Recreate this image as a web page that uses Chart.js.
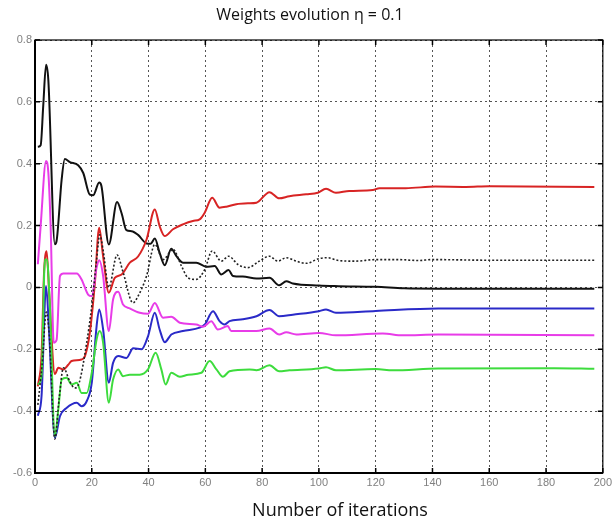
<!DOCTYPE html>
<html>
<head>
<meta charset="utf-8">
<script src="https://cdn.jsdelivr.net/npm/chart.js@4/dist/chart.umd.min.js"></script>
<style>
    html, body { margin: 0; padding: 0; background: #ffffff; }
    #wrap { width: 615px; height: 524px; }
</style>
</head>
<body>
<div id="wrap"><canvas id="weightsChart" width="615" height="524"></canvas></div>
<script>
// ==========================================
// DATA
// ==========================================

const chartTitle = 'Weights evolution η = 0.1';
const xAxisTitle = 'Number of iterations';

const xTicks = [0, 20, 40, 60, 80, 100, 120, 140, 160, 180, 200];
const yTicks = [-0.6, -0.4, -0.2, 0, 0.2, 0.4, 0.6, 0.8];

// black solid
const blackIter = [1, 2, 2.9, 3.9, 4.7, 7, 7.6, 9.4, 10.5, 12.3, 15.2, 17, 19.3, 20.5, 22.6, 23.4, 26, 28.9, 30.5, 32.2, 34, 36.3, 39.3, 40.7, 42.2, 43.9, 45.7, 48, 49.8, 52.1, 56.8, 60.3, 63.3, 65.6, 68.2, 69.7, 73.2, 78, 82.6, 86, 88.5, 90.8, 100, 107, 120, 130, 142, 197];
const blackW = [0.455, 0.46, 0.587, 0.72, 0.67, 0.14, 0.15, 0.35, 0.415, 0.405, 0.395, 0.37, 0.30, 0.298, 0.339, 0.328, 0.139, 0.276, 0.24, 0.185, 0.182, 0.17, 0.142, 0.141, 0.158, 0.112, 0.072, 0.125, 0.101, 0.08, 0.08, 0.067, 0.069, 0.042, 0.056, 0.037, 0.035, 0.029, 0.031, 0.007, 0.02, 0.013, 0.006, 0.004, 0.002, -0.003, -0.004, -0.004];

// black dotted
const dotIter = [1, 2.5, 4, 5, 7, 8.5, 10, 12.3, 14, 15.5, 18.2, 20, 21.7, 22.8, 24, 26, 28.9, 31, 34.5, 36.3, 39.3, 42.2, 45.1, 48.6, 51.6, 53.9, 56.8, 59.8, 62.4, 65.6, 68.2, 71.5, 75, 79, 82.6, 85.5, 88.5, 92, 95.5, 100, 103, 107, 113, 120, 128, 135, 140, 160, 197];
const dotW = [-0.38, -0.25, -0.08, -0.15, -0.49, -0.36, -0.26, -0.305, -0.325, -0.31, -0.179, -0.06, 0.09, 0.17, 0.12, 0.0, 0.105, 0.05, -0.05, -0.028, 0.037, 0.139, 0.09, 0.123, 0.069, 0.031, 0.026, 0.058, 0.118, 0.085, 0.101, 0.074, 0.064, 0.085, 0.101, 0.085, 0.096, 0.085, 0.078, 0.093, 0.096, 0.087, 0.085, 0.09, 0.09, 0.087, 0.09, 0.088, 0.088];

// red
const redIter = [1, 2.3, 3.2, 4.1, 5, 7, 8.2, 10, 11.7, 12.9, 16.4, 17.6, 19.3, 21.1, 22.6, 24, 26, 28.1, 30.5, 33.4, 36.3, 39.3, 42.2, 43.9, 45.7, 48.6, 52.1, 55.6, 58, 59.8, 62.4, 65, 67.4, 70.9, 75, 78, 82.6, 86, 89.6, 95.5, 99.6, 102.5, 106, 110.7, 119, 121.3, 130.6, 141, 151.7, 160, 197];
const redW = [-0.32, -0.22, 0.05, 0.117, -0.02, -0.28, -0.26, -0.265, -0.25, -0.238, -0.233, -0.222, -0.147, 0.015, 0.193, 0.1, -0.017, 0.031, 0.042, 0.08, 0.1, 0.155, 0.252, 0.198, 0.166, 0.188, 0.204, 0.215, 0.22, 0.242, 0.29, 0.258, 0.261, 0.269, 0.272, 0.274, 0.308, 0.288, 0.295, 0.301, 0.306, 0.319, 0.306, 0.312, 0.315, 0.321, 0.321, 0.326, 0.325, 0.327, 0.325];

// magenta
const magIter = [1, 2, 3.9, 4.7, 5.5, 6.6, 7.6, 8.8, 10, 14.7, 16.4, 18.7, 20, 21.7, 22.6, 24, 26, 27.5, 29.3, 31, 33.4, 36.9, 39.8, 42.2, 45.1, 48, 51, 56.8, 59.2, 62.1, 64.4, 67.9, 69.1, 75.6, 78, 82.6, 86, 88.5, 92, 100, 106, 122.5, 129.5, 142, 197];
const magW = [0.075, 0.2, 0.409, 0.371, 0.2, -0.179, -0.17, 0.037, 0.045, 0.045, 0.026, -0.023, -0.028, 0.064, 0.088, 0.037, -0.141, -0.039, -0.014, -0.055, -0.068, -0.082, -0.085, -0.05, -0.098, -0.095, -0.114, -0.12, -0.127, -0.109, -0.136, -0.125, -0.141, -0.141, -0.141, -0.133, -0.152, -0.145, -0.152, -0.147, -0.155, -0.149, -0.155, -0.152, -0.155];

// blue
const blueIter = [1, 2.3, 3.9, 5, 7, 8.8, 11.1, 14.7, 16.4, 18.2, 20, 21.7, 22.6, 24, 26, 27.5, 29.3, 32.2, 34.6, 37.5, 39.8, 42.2, 43.9, 45.7, 48, 52.1, 58, 59.8, 62.7, 65, 66.8, 68.5, 73.2, 78, 82.6, 86, 90.8, 100, 102.5, 106, 120, 142, 197];
const blueW = [-0.415, -0.352, 0.005, -0.15, -0.486, -0.416, -0.39, -0.373, -0.384, -0.368, -0.308, -0.125, -0.071, -0.136, -0.308, -0.244, -0.222, -0.228, -0.197, -0.2, -0.158, -0.082, -0.136, -0.177, -0.152, -0.141, -0.13, -0.12, -0.077, -0.109, -0.12, -0.109, -0.103, -0.093, -0.073, -0.093, -0.088, -0.077, -0.071, -0.082, -0.076, -0.068, -0.068];

// green
const greenIter = [1, 2.3, 3.5, 4.2, 5.2, 7, 8.2, 9.4, 11.1, 12.9, 14.7, 16.4, 18.2, 20, 21.7, 22.8, 24, 26, 27.5, 29.3, 31, 33.4, 36.9, 39.8, 42.5, 44.5, 46, 48, 51, 54, 58.6, 61.5, 63.9, 66.2, 68.5, 75.6, 78, 82.6, 86, 89.6, 100, 102.5, 106, 120, 126, 142, 183, 197];
const greenW = [-0.314, -0.287, 0.09, 0.09, -0.05, -0.481, -0.395, -0.298, -0.292, -0.314, -0.308, -0.341, -0.341, -0.276, -0.168, -0.141, -0.179, -0.373, -0.298, -0.265, -0.287, -0.282, -0.282, -0.265, -0.211, -0.265, -0.314, -0.276, -0.289, -0.282, -0.276, -0.238, -0.265, -0.289, -0.271, -0.265, -0.268, -0.252, -0.271, -0.268, -0.262, -0.258, -0.268, -0.264, -0.268, -0.262, -0.261, -0.263];

// ==========================================
// HELPERS
// ==========================================

function toPoints(xs, ys) {
    return xs.map((x, i) => ({ x: x, y: ys[i] }));
}

function lineSet(label, xs, ys, color, extra) {
    return Object.assign({
        label: label,
        data: toPoints(xs, ys),
        borderColor: color,
        borderWidth: 2,
        pointRadius: 0,
        fill: false,
        cubicInterpolationMode: 'monotone'
    }, extra || {});
}

// box round the plot, with inward tick marks on all four sides (matlab style)
const framePlugin = {
    id: 'frame',
    afterDraw(chart) {
        const { ctx, chartArea: a, scales } = chart;
        ctx.save();
        ctx.strokeStyle = '#000';
        ctx.lineWidth = 1.2;
        ctx.strokeRect(a.left, a.top, a.right - a.left, a.bottom - a.top);
        ctx.lineWidth = 2;
        ctx.beginPath();
        ctx.moveTo(a.left, a.top);
        ctx.lineTo(a.left, a.bottom);
        ctx.lineTo(a.right, a.bottom);
        ctx.stroke();
        ctx.lineWidth = 1.5;
        ctx.beginPath();
        xTicks.forEach(v => {
            const px = scales.x.getPixelForValue(v);
            ctx.moveTo(px, a.top); ctx.lineTo(px, a.top + 5);
            ctx.moveTo(px, a.bottom); ctx.lineTo(px, a.bottom - 5);
        });
        yTicks.forEach(v => {
            const py = scales.y.getPixelForValue(v);
            ctx.moveTo(a.left, py); ctx.lineTo(a.left + 5, py);
            ctx.moveTo(a.right, py); ctx.lineTo(a.right - 5, py);
        });
        ctx.stroke();
        ctx.restore();
    }
};

// the captions in the picture sit a bit off-centre, so they are placed by hand
const captionPlugin = {
    id: 'captions',
    afterDraw(chart) {
        const ctx = chart.ctx;
        ctx.save();
        ctx.fillStyle = '#111';
        ctx.textAlign = 'center';
        ctx.textBaseline = 'middle';
        ctx.font = "16px 'Open Sans', sans-serif";
        ctx.fillText(chartTitle, 310, 15);
        ctx.font = "18px 'Open Sans', sans-serif";
        ctx.fillText(xAxisTitle, 340, 511);
        ctx.restore();
    }
};

// ==========================================
// CHART
// ==========================================

const ctx = document.getElementById('weightsChart').getContext('2d');

new Chart(ctx, {
    type: 'line',
    data: {
        datasets: [
            lineSet('w dotted', dotIter, dotW, '#222222', { borderWidth: 1.6, borderDash: [2, 2] }),
            lineSet('w green', greenIter, greenW, '#3ddc3d'),
            lineSet('w magenta', magIter, magW, '#e83ce8'),
            lineSet('w blue', blueIter, blueW, '#2a2ac8'),
            lineSet('w red', redIter, redW, '#d82424'),
            lineSet('w black', blackIter, blackW, '#111111')
        ]
    },
    options: {
        responsive: false,
        animation: false,
        layout: {
            padding: { left: 0, right: 12, top: 40, bottom: 0 }
        },
        plugins: {
            legend: { display: false },
            tooltip: { enabled: false },
            title: { display: false }
        },
        scales: {
            x: {
                type: 'linear',
                min: 0,
                max: 200,
                afterFit: function(scale) { scale.height = 51; },
                afterBuildTicks: function(scale) { scale.ticks = xTicks.map(v => ({ value: v })); },
                ticks: {
                    color: '#808080',
                    padding: 3,
                    font: { family: "'Liberation Sans', Arial, sans-serif", size: 11 }
                },
                grid: {
                    color: '#555555',
                    lineWidth: 1,
                    drawTicks: false
                },
                border: { display: false, dash: [2, 3] }
            },
            y: {
                type: 'linear',
                min: -0.6,
                max: 0.8,
                afterFit: function(scale) { scale.width = 35; },
                afterBuildTicks: function(scale) { scale.ticks = yTicks.map(v => ({ value: v })); },
                ticks: {
                    color: '#808080',
                    padding: 3,
                    font: { family: "'Liberation Sans', Arial, sans-serif", size: 11 },
                    callback: function(value) {
                        return String(Math.round(value * 10) / 10);
                    }
                },
                grid: {
                    color: '#555555',
                    lineWidth: 1,
                    drawTicks: false
                },
                border: { display: false, dash: [2, 3] }
            }
        }
    },
    plugins: [framePlugin, captionPlugin]
});
</script>
</body>
</html>
